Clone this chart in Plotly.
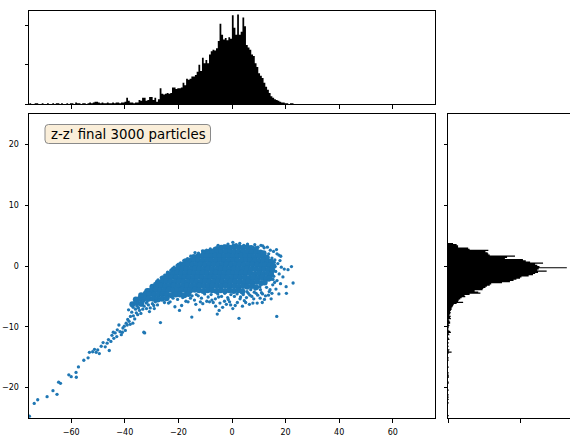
import plotly.graph_objects as go

# ---------------- data ----------------
# dense core of the z-z' distribution (x = z, y = z')
core_pts = [
    (-5.6,2.8),(-4.0,3.0),(-2.4,3.1),(-0.8,3.0),(0.8,3.2),(2.5,3.1),(4.1,3.0),(5.7,3.1),(7.3,2.9),(8.9,2.8),
    (-10.4,2.2),(-8.8,2.3),(-7.2,2.4),(-5.6,2.3),(-4.0,2.3),(-2.3,2.4),(-0.7,2.3),(0.9,2.4),(2.5,2.3),(4.1,2.4),
    (5.8,2.3),(7.4,2.2),(9.0,2.3),(10.6,2.2),(11.8,2.1),
    (-14.2,1.5),(-12.6,1.6),(-11.0,1.7),(-9.4,1.6),(-7.8,1.6),(-6.2,1.7),(-4.6,1.6),(-2.9,1.6),(-1.3,1.7),(0.3,1.6),
    (1.9,1.6),(3.5,1.7),(5.1,1.6),(6.8,1.6),(8.4,1.5),(10.0,1.6),(11.6,1.5),(13.0,1.4),
    (-17.3,0.8),(-15.7,0.9),(-14.1,1.0),(-12.5,0.9),(-10.9,0.9),(-9.2,1.0),(-7.6,0.9),(-6.0,0.9),(-4.4,1.0),(-2.8,0.9),
    (-1.2,0.9),(0.4,1.0),(2.0,0.9),(3.7,0.9),(5.3,1.0),(6.9,0.9),(8.5,0.9),(10.1,0.8),(11.7,0.9),(13.3,0.8),(14.6,0.7),
    (-19.7,0.1),(-18.1,0.2),(-16.5,0.3),(-14.9,0.2),(-13.3,0.2),(-11.7,0.3),(-10.1,0.2),(-8.5,0.2),(-6.8,0.3),(-5.2,0.2),
    (-3.6,0.2),(-2.0,0.3),(-0.4,0.2),(1.2,0.2),(2.8,0.3),(4.4,0.2),(6.0,0.2),(7.7,0.3),(9.3,0.2),(10.9,0.1),(12.5,0.2),
    (14.1,0.1),(15.4,0.0),
    (-21.8,-0.6),(-20.2,-0.5),(-18.6,-0.4),(-17.0,-0.5),(-15.4,-0.5),(-13.8,-0.4),(-12.2,-0.5),(-10.6,-0.5),(-9.0,-0.4),
    (-7.4,-0.5),(-5.7,-0.5),(-4.1,-0.4),(-2.5,-0.5),(-0.9,-0.5),(0.7,-0.4),(2.3,-0.5),(3.9,-0.5),(5.6,-0.4),(7.2,-0.5),
    (8.8,-0.5),(10.4,-0.6),(12.0,-0.5),(13.6,-0.6),(15.0,-0.7),
    (-23.7,-1.3),(-22.1,-1.2),(-20.5,-1.1),(-18.9,-1.2),(-17.3,-1.2),(-15.7,-1.1),(-14.1,-1.2),(-12.5,-1.2),(-10.9,-1.1),
    (-9.3,-1.2),(-7.6,-1.2),(-6.0,-1.1),(-4.4,-1.2),(-2.8,-1.2),(-1.2,-1.1),(0.4,-1.2),(2.0,-1.2),(3.6,-1.1),(5.2,-1.2),
    (6.8,-1.2),(8.5,-1.3),(10.1,-1.2),(11.7,-1.3),(13.3,-1.2),(14.6,-1.4),
    (-25.7,-2.0),(-24.1,-1.9),(-22.5,-1.8),(-20.9,-1.9),(-19.3,-1.9),(-17.7,-1.8),(-16.1,-1.9),(-14.5,-1.9),(-12.9,-1.8),
    (-11.2,-1.9),(-9.6,-1.9),(-8.0,-1.8),(-6.4,-1.9),(-4.8,-1.9),(-3.2,-1.8),(-1.6,-1.9),(0.0,-1.9),(1.6,-1.8),(3.2,-1.9),
    (4.8,-1.9),(6.5,-2.0),(8.1,-1.9),(9.7,-2.0),(11.3,-1.9),(12.9,-2.1),(14.1,-2.0),
    (-27.7,-2.7),(-26.1,-2.6),(-24.5,-2.5),(-22.9,-2.6),(-21.3,-2.6),(-19.7,-2.5),(-18.1,-2.6),(-16.5,-2.6),(-14.8,-2.5),
    (-13.2,-2.6),(-11.6,-2.6),(-10.0,-2.5),(-8.4,-2.6),(-6.8,-2.6),(-5.2,-2.5),(-3.6,-2.6),(-2.0,-2.6),(-0.4,-2.5),(1.2,-2.6),
    (2.8,-2.6),(4.5,-2.7),(6.1,-2.6),(7.7,-2.7),(9.3,-2.6),(10.9,-2.8),(12.2,-2.7),
    (-29.7,-3.4),(-28.1,-3.3),(-26.5,-3.2),(-24.9,-3.3),(-23.3,-3.3),(-21.7,-3.2),(-20.1,-3.3),(-18.4,-3.3),(-16.8,-3.2),
    (-15.2,-3.3),(-13.6,-3.3),(-12.0,-3.2),(-10.4,-3.3),(-8.8,-3.3),(-7.2,-3.2),(-5.6,-3.3),(-4.0,-3.3),(-2.3,-3.2),(-0.7,-3.3),
    (0.9,-3.3),(2.5,-3.4),(4.1,-3.3),(5.7,-3.4),(7.4,-3.3),(9.0,-3.5),
    (-31.6,-4.1),(-30.0,-4.0),(-28.4,-3.9),(-26.8,-4.0),(-25.2,-4.0),(-23.6,-3.9),(-22.0,-4.0),(-20.4,-4.0),(-18.8,-3.9),
    (-17.1,-4.0),(-15.5,-4.0),(-13.9,-3.9),(-12.3,-4.0),(-10.7,-4.1),(-9.1,-4.0),(-7.4,-4.0),(-5.8,-4.1),(-4.2,-4.0),(-2.6,-4.1),
    (-1.0,-4.0),(0.6,-4.1),(2.3,-4.0),(3.9,-4.2),
    (-33.9,-4.8),(-32.3,-4.7),(-30.7,-4.6),(-29.1,-4.7),(-27.5,-4.7),(-25.9,-4.6),(-24.3,-4.7),(-22.7,-4.8),(-21.0,-4.7),
    (-19.4,-4.7),(-17.8,-4.8),(-16.2,-4.6),
    (-35.9,-5.5),(-34.3,-5.4),(-32.7,-5.3),(-31.1,-5.4),(-29.4,-5.4),(-27.7,-5.5),(-26.1,-5.4),(-24.4,-5.3),
    (-37.2,-6.3),(-35.6,-6.1),(-33.9,-6.2),
]

# sparse particles around the edge of the core and outliers
edge_pts = [
    (-6.5,2.9),(-5.2,3.4),(-3.0,3.3),(-1.5,3.6),(0.3,3.9),(1.6,3.5),(2.9,3.7),(4.4,3.4),(5.8,3.6),(7.1,3.2),
    (8.5,3.5),(9.7,3.1),(10.8,3.4),(12.0,3.0),(13.2,3.1),(-8.1,2.8),(-9.5,2.6),(-11.0,2.5),(-12.5,2.1),(-13.8,2.2),
    (-15.4,1.6),(-16.6,1.2),(-18.0,0.9),(-19.2,0.5),(-20.5,0.1),(-21.6,-0.2),(-22.8,-0.7),(-24.0,-1.0),(-25.1,-1.5),
    (-26.4,-1.9),(-27.6,-2.3),(-28.8,-2.9),(-30.0,-3.4),(-31.3,-3.9),(-32.5,-4.3),(-33.6,-4.9),(-34.9,-5.3),(-36.2,-5.9),
    (-37.4,-6.4),
    (15.5,2.4),(16.8,2.0),(17.5,1.8),(18.2,1.6),(14.3,2.6),(16.0,1.0),(17.1,0.4),(18.4,-0.2),(19.5,-0.5),(20.9,-0.6),
    (22.2,-0.1),(16.3,-0.9),(17.6,-1.3),(19.0,-1.8),(16.8,-2.4),(18.1,-2.9),(20.2,-3.4),(22.8,-2.8),(15.2,-3.1),
    (16.4,-3.8),(17.5,-4.6),(20.3,-4.5),(13.9,-4.2),(12.5,-4.9),(14.6,-5.4),(11.3,-6.0),(9.4,-6.1),(16.7,-8.3),
    (2.6,-8.6),(-5.5,-7.9),(-4.8,-7.3),(-15.0,-8.4),(-26.7,-9.3),(-32.9,-10.9),(-0.5,-6.4),(2.0,-6.0),(4.6,-5.7),
    (6.5,-6.3),(8.1,-5.4),(-2.8,-5.8),(-6.1,-6.6),(-8.4,-5.9),(-10.9,-6.2),(-13.5,-6.3),(-16.4,-5.9),(-18.8,-6.5),
    (-21.3,-6.7),(-23.7,-6.1),(-12.1,-7.2),(-19.6,-7.3),(0.3,-7.0),(-3.5,-6.8),(10.5,-5.3),(12.9,-3.5),(13.8,-2.3),
    (15.6,-1.7),(14.8,-0.2),(15.8,0.6),(-7.5,-5.6),(-1.6,-5.2),(3.2,-5.1),(6.7,-4.8),(9.0,-4.5),(10.6,-3.9),
    (11.4,-4.6),(-5.0,-5.1),(13.7,2.0),(14.9,1.3),(15.9,-2.7),(14.2,-3.9),
    (-12.6,-4.9),(-11.4,-5.3),(-10.2,-4.6),(-8.9,-5.1),(-7.8,-4.7),(-6.2,-5.4),(-5.3,-4.6),(-3.9,-5.0),(-2.7,-4.5),
    (-1.4,-5.5),(-0.4,-4.7),(0.9,-5.0),(1.9,-4.6),(3.0,-5.4),(4.2,-4.7),(5.4,-5.2),(5.6,-4.2),(6.1,-4.5),(7.4,-5.0),
    (8.3,-4.3),(9.6,-4.8),(-9.4,-5.8),(-4.5,-6.1),(1.2,-6.5),(5.1,-6.0),(-14.0,-5.6),(-15.5,-5.3),(-17.2,-5.8),
    (-18.4,-5.2),(-0.9,-5.9),(3.9,-6.6),(7.8,-6.1),(10.4,-3.4),(11.2,-2.9),(-13.3,-4.7),(-14.9,-4.9),(-20.3,-5.5),
    (-22.0,-5.3),(-23.1,-5.9),(-25.2,-6.0),(-11.8,-5.9),(-7.0,-6.0),(-2.1,-6.3),(7.0,-3.9),(8.6,-3.8),
    (13.6,-4.8),(12.1,-5.5),(11.0,-4.4),(14.9,-4.5),(15.3,-2.2),(16.1,-0.1),(17.9,0.9),(16.6,2.7),(11.5,3.3),
]

# long low-energy tail of the bunch
tail_pts = [
    (-44.8,-11.4),(-44.1,-11.9),(-43.6,-11.0),(-42.8,-10.5),(-42.2,-9.7),(-41.3,-11.3),(-40.7,-10.2),(-39.5,-9.4),
    (-38.9,-8.8),(-37.9,-8.3),(-37.0,-9.4),(-35.7,-7.7),(-34.5,-7.3),(-33.9,-6.4),(-32.6,-11.0),(-32.0,-6.1),
    (-30.8,-7.5),(-30.1,-5.5),(-28.3,-5.3),(-26.4,-4.7),(-46.1,-12.1),(-45.8,-13.9),(-48.1,-12.6),
    (-48.8,-13.2),(-49.5,-14.4),(-50.1,-13.8),(-50.7,-14.2),(-51.3,-13.7),(-52.0,-14.1),(-53.2,-14.2),(-53.7,-15.1),
    (-55.3,-15.5),(-57.3,-16.6),(-58.1,-18.3),(-58.2,-17.5),(-60.0,-18.2),(-60.9,-17.9),(-64.0,-19.3),(-64.7,-19.1),
    (-65.3,-21.1),(-66.8,-20.5),(-69.0,-21.5),(-72.5,-22.0),(-73.8,-22.6),(-75.6,-24.7),
    (-41.8,-10.8),(-40.2,-9.9),(-39.8,-10.6),(-38.4,-9.1),(-38.0,-9.6),(-36.8,-8.2),(-36.3,-8.7),(-35.2,-8.0),
    (-34.9,-6.9),(-34.0,-7.8),(-33.3,-7.1),(-32.8,-6.6),(-31.9,-7.0),(-31.2,-6.4),(-30.5,-6.9),(-29.7,-6.2),
    (-29.0,-7.0),(-28.6,-5.9),(-27.8,-6.4),(-27.2,-5.6),(-37.4,-7.6),(-39.1,-9.7),(-40.9,-10.9),(-43.0,-11.6),
    (-44.3,-10.9),(-46.6,-12.7),(-47.3,-13.3),(-45.2,-12.4),(-36.0,-7.1),(-34.3,-6.2),(-33.0,-5.8),
    (-38.6,-7.2),(-36.9,-6.8),(-35.4,-6.6),(-31.7,-5.9),(-29.2,-6.5),
]

# marginal histogram of z (top), 150 bins
top_bin_start = -75.6
top_bin_width = 0.657
top_counts = [
    1,0,0,1,1,0,0,1,0,0,   1,0,0,1,0,1,1,0,1,0,   0,1,0,1,1,0,2,1,1,0,
    1,1,0,1,2,1,2,3,3,2,   1,2,1,1,2,1,1,2,1,2,   2,1,2,2,3,8,4,2,2,1,
    2,2,5,4,8,8,4,5,9,9,   5,8,3,6,20,13,12,13,14,13,
    14,21,21,19,20,20,21,27,24,32,   31,32,35,35,37,41,50,42,59,52,
    56,52,63,67,69,68,71,80,102,88,  82,84,81,85,83,113,97,88,114,88,
    92,110,99,75,72,69,63,61,52,47,  39,36,33,27,22,18,14,10,8,6,
    5,4,3,2,2,1,1,0,1,1,
]

# marginal histogram of z' (right), 150 bins
right_bin_start = -24.7
right_bin_width = 0.19
right_counts = [
    1,0,0,0,0,0,0,0,0,0,   0,1,0,0,1,0,1,0,1,0,   0,0,1,0,0,0,0,0,1,1,
    0,0,0,1,1,1,0,1,0,0,   0,0,1,0,0,0,0,0,1,0,   1,0,0,0,1,5,1,2,0,0,
    1,0,0,1,0,0,2,1,0,0,   2,1,4,3,1,0,1,1,2,1,   3,3,2,1,4,3,4,2,3,4,
    3,4,5,5,6,7,8,12,21,14,  15,17,19,24,23,30,45,42,37,48,
    49,52,54,58,60,75,86,91,95,100,  102,112,118,121,125,137,124,126,165,127,
    124,121,132,114,108,104,79,82,93,58,  56,55,52,56,30,28,14,14,12,7,
]

x_ticks = [-60, -40, -20, 0, 20, 40, 60]
y_ticks = [-20, -10, 0, 10, 20]
label_text = "z-z' final 3000 particles"

# ---------------- geometry (pixels of the 570x438 page) ----------------
W, H = 570, 438
def xdom(a, b):
    return [a / W, b / W]
def ydom(top, bottom):
    return [1 - bottom / H, 1 - top / H]

def fmt(v):
    return str(v).replace("-", "\u2212")

blue = "#1f77b4"
fig = go.Figure()

fig.add_trace(go.Scatter(
    x=[p[0] for p in core_pts], y=[p[1] for p in core_pts], mode="markers",
    marker=dict(color=blue, size=6, line=dict(width=0)), xaxis="x", yaxis="y", hoverinfo="skip"))
fig.add_trace(go.Scatter(
    x=[p[0] for p in edge_pts + tail_pts], y=[p[1] for p in edge_pts + tail_pts], mode="markers",
    marker=dict(color=blue, size=3.3, line=dict(width=0)), xaxis="x", yaxis="y", hoverinfo="skip"))

# top histogram as filled step outline
top_edges = [top_bin_start + top_bin_width * i for i in range(len(top_counts) + 1)]
fig.add_trace(go.Scatter(
    x=top_edges, y=top_counts + [top_counts[-1]], mode="lines",
    line=dict(shape="hv", color="black", width=0), fill="tozeroy", fillcolor="black",
    xaxis="x2", yaxis="y2", hoverinfo="skip"))

# right histogram (horizontal)
right_edges = [right_bin_start + right_bin_width * j for j in range(len(right_counts) + 1)]
fig.add_trace(go.Scatter(
    x=right_counts + [right_counts[-1]], y=right_edges, mode="lines",
    line=dict(shape="vh", color="black", width=0), fill="tozerox", fillcolor="black",
    xaxis="x3", yaxis="y3", hoverinfo="skip"))

tickfont = dict(family="DejaVu Sans", size=8, color="black")
common = dict(showgrid=False, zeroline=False, showline=True, linecolor="black", linewidth=1,
              ticks="outside", ticklen=3.5, tickwidth=1, tickcolor="black", tickfont=tickfont)

fig.update_layout(
    width=W, height=H, margin=dict(l=0, r=0, t=0, b=0),
    paper_bgcolor="white", plot_bgcolor="white", showlegend=False,
    xaxis=dict(domain=xdom(29, 435), range=[-75.75, 75.75], anchor="y", mirror=True,
               tickvals=x_ticks, ticktext=[fmt(v) for v in x_ticks], automargin=False,
               ticklabelstandoff=3, **common),
    yaxis=dict(domain=ydom(114, 418), range=[-25, 25], anchor="x", mirror=True,
               tickvals=y_ticks, ticktext=[fmt(v) for v in y_ticks], automargin=False,
               ticklabelstandoff=4, **common),
    xaxis2=dict(domain=xdom(29, 435), range=[-75.75, 75.75], anchor="y2", mirror=True,
                tickvals=x_ticks, showticklabels=False, **common),
    yaxis2=dict(domain=ydom(10.7, 104), range=[0, 118.7], anchor="x2", mirror=True,
                tickvals=[0, 50, 100], showticklabels=False, **common),
    xaxis3=dict(domain=xdom(448, 570), range=[0, 169.4], anchor="y3", mirror=True,
                tickvals=[0, 100], showticklabels=False, **common),
    yaxis3=dict(domain=ydom(114, 418), range=[-25, 25], anchor="x3", mirror=False,
                tickvals=y_ticks, showticklabels=False, **common),
)

# rounded label box (matplotlib-style bbox)
bx0, bx1, by0, by1, r = 45, 210.5, 124.5, 143.5, 3.5
def P(x, y):
    return f"{x / W:.5f},{1 - y / H:.5f}"
path = (f"M {P(bx0 + r, by0)} L {P(bx1 - r, by0)} Q {P(bx1, by0)} {P(bx1, by0 + r)} "
        f"L {P(bx1, by1 - r)} Q {P(bx1, by1)} {P(bx1 - r, by1)} L {P(bx0 + r, by1)} "
        f"Q {P(bx0, by1)} {P(bx0, by1 - r)} L {P(bx0, by0 + r)} Q {P(bx0, by0)} {P(bx0 + r, by0)} Z")
fig.add_shape(type="path", path=path, xref="paper", yref="paper",
              fillcolor="#faeed9", line=dict(color="#8a8a8a", width=1), layer="above")
fig.add_annotation(x=128 / W, y=1 - 134 / H, xref="paper", yref="paper", text=label_text,
                   showarrow=False, xanchor="center", yanchor="middle",
                   font=dict(family="DejaVu Sans", size=13.3, color="black"))

fig.write_html("out.html", config={"displayModeBar": False, "staticPlot": True},
               post_script="document.body.style.margin='0';document.body.style.overflow='hidden';")
